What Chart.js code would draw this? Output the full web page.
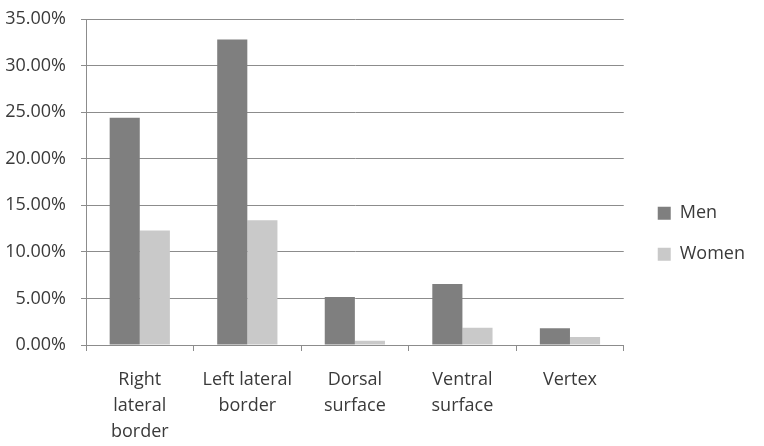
<!DOCTYPE html>
<html>
<head>
<meta charset="utf-8">
<script src="https://cdn.jsdelivr.net/npm/chart.js@4/dist/chart.umd.min.js"></script>
<style>
    html, body { margin: 0; padding: 0; background: #ffffff; }
    #wrap { width: 764px; height: 446px; }
</style>
</head>
<body>
<div id="wrap"><canvas id="chart"></canvas></div>
<script>
// categories (multi-line labels as in the original)
var categories = [
    ["Right", "lateral", "border"],
    ["Left lateral", "border"],
    ["Dorsal", "surface"],
    ["Ventral", "surface"],
    ["Vertex"]
];

// percentages
var menValues = [24.4, 32.8, 5.15, 6.55, 1.8];
var womenValues = [12.3, 13.4, 0.45, 1.85, 0.85];

var yMin = 0;
var yMax = 35;
var yStep = 5;

var textColor = "#3a3a3a";
var lineColor = "#8c8c8c";

Chart.defaults.font.family = "'Open Sans', sans-serif";
Chart.defaults.color = textColor;

// push the legend a little further away from the plot
var legendShift = {
    id: "legendShift",
    afterLayout: function (chart) {
        if (chart.legend) {
            chart.legend.left += 11;
            chart.legend.right += 11;
        }
    }
};

var canvas = document.getElementById("chart");

var chart = new Chart(canvas, {
    type: "bar",
    data: {
        labels: categories,
        datasets: [
            {
                label: "Men",
                data: menValues,
                backgroundColor: "#7f7f7f",
                barPercentage: 1.0,
                categoryPercentage: 0.56
            },
            {
                label: "Women",
                data: womenValues,
                backgroundColor: "#c9c9c9",
                barPercentage: 1.0,
                categoryPercentage: 0.56
            }
        ]
    },
    plugins: [legendShift],
    options: {
        responsive: true,
        maintainAspectRatio: false,
        animation: false,
        layout: {
            padding: { left: 2, right: 20, top: 0, bottom: 0 }
        },
        plugins: {
            tooltip: { enabled: false },
            legend: {
                position: "right",
                align: "center",
                title: {
                    display: true,
                    text: " ",
                    font: { size: 18 },
                    padding: 0
                },
                labels: {
                    boxWidth: 13,
                    boxHeight: 13,
                    padding: 23,
                    color: textColor,
                    font: { size: 18 }
                }
            }
        },
        scales: {
            x: {
                grid: {
                    offset: true,
                    drawOnChartArea: false,
                    drawTicks: true,
                    tickLength: 6,
                    color: lineColor
                },
                border: { color: lineColor, width: 1 },
                ticks: {
                    padding: 16,
                    maxRotation: 0,
                    autoSkip: false,
                    color: textColor,
                    font: { size: 18, lineHeight: 1.45 }
                },
                afterFit: function (scale) {
                    scale.paddingLeft = 0;
                    scale.paddingRight = 0;
                    scale.height = 101;
                }
            },
            y: {
                min: yMin,
                max: yMax,
                grid: {
                    color: lineColor,
                    tickLength: 5,
                    lineWidth: 1
                },
                border: { color: lineColor, width: 1 },
                ticks: {
                    stepSize: yStep,
                    padding: 15,
                    color: textColor,
                    font: { size: 18 },
                    callback: function (value) {
                        return value.toFixed(2) + "%";
                    }
                },
                afterFit: function (scale) {
                    scale.width = 84;
                    scale.paddingTop = 19;
                    scale.paddingBottom = 0;
                }
            }
        }
    }
});
</script>
</body>
</html>
